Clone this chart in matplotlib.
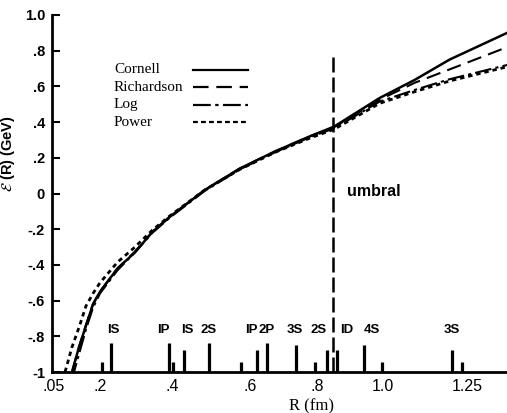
import matplotlib
matplotlib.use("Agg")
import matplotlib.pyplot as plt
import numpy as np

# curve values, R in fm, E in GeV
r = np.array([0.10, 0.12, 0.14, 0.16, 0.18, 0.20, 0.25, 0.30, 0.35, 0.40,
              0.50, 0.60, 0.70, 0.80, 0.87, 1.00, 1.10, 1.20, 1.365])
cornell = [np.nan, -1.00, -0.86, -0.74, -0.62, -0.55, -0.42, -0.33, -0.215, -0.13,
           0.02, 0.14, 0.235, 0.32, 0.375, 0.535, 0.636, 0.75, 0.90]
richardson = [np.nan, -1.00, -0.86, -0.735, -0.62, -0.55, -0.42, -0.325, -0.215, -0.13,
              0.02, 0.14, 0.235, 0.32, 0.372, 0.525, 0.62, 0.695, 0.82]
log_pot = [np.nan, -1.04, -0.90, -0.76, -0.64, -0.56, -0.43, -0.33, -0.22, -0.135,
           0.015, 0.135, 0.23, 0.315, 0.365, 0.515, 0.58, 0.64, 0.72]
power = [-1.00, -0.86, -0.75, -0.63, -0.56, -0.50, -0.385, -0.30, -0.205, -0.125,
         0.02, 0.135, 0.23, 0.31, 0.36, 0.505, 0.57, 0.63, 0.71]

# level marks along the bottom
lvl_r = [0.206, 0.231, 0.397, 0.409, 0.440, 0.512, 0.603, 0.649, 0.678, 0.761,
         0.815, 0.850, 0.878, 0.955, 1.007, 1.207, 1.236]
lvl_top = [-0.945, -0.84, -0.84, -0.945, -0.875, -0.84, -0.945, -0.875, -0.84, -0.85,
           -0.945, -0.875, -0.875, -0.85, -0.945, -0.875, -0.945]
lab_r = [0.237, 0.380, 0.449, 0.512, 0.633, 0.678, 0.758, 0.824, 0.907, 0.978, 1.207]
lab_txt = ["IS", "IP", "IS", "2S", "IP", "2P", "3S", "2S", "ID", "4S", "3S"]

umbral_r = 0.867
umbral_top = 0.776

xtick_pos = [0.068, 0.2, 0.406, 0.629, 0.821, 1.01, 1.25]
xtick_lab = [".05", ".2", ".4", ".6", ".8", "1.0", "1.25"]
ytick_pos = [1.0, 0.8, 0.6, 0.4, 0.2, 0.0, -0.2, -0.4, -0.6, -0.8, -1.0]
ytick_lab = ["1.0", ".8", ".6", ".4", ".2", "0", "-.2", "-.4", "-.6", "-.8", "-1"]

names = ["Cornell", "Richardson", "Log", "Power"]
styles = ["-", (0, (7, 3.5)), (0, (8, 2, 1.5, 2)), (0, (1.6, 1.4))]
widths = [1.8, 1.5, 1.5, 2.0]

fig = plt.figure(figsize=(5.07, 4.13), dpi=100)
ax = fig.add_axes([52/507, 1 - 372/413, 455/507, 357/413])

for y, ls, lw in zip([cornell, richardson, log_pot, power], styles, widths):
    ax.plot(r, y, color="black", linestyle=ls, linewidth=lw)

ax.vlines(lvl_r, -1, lvl_top, color="black", linewidth=2.3)
for xr, t in zip(lab_r, lab_txt):
    ax.text(xr, -0.765, t, ha="center", va="center", fontsize=9.5,
            fontweight="bold", family="Liberation Sans")

ax.vlines(umbral_r, -1, umbral_top, color="black", linewidth=1.8,
          linestyles=[(0, (6, 2))])
ax.text(0.906, 0.014, "umbral", ha="left", va="center", fontsize=11.5,
        fontweight="bold", family="Liberation Sans")

# hand-made legend, text left aligned, sample lines to the right
rows = [0.846, 0.797, 0.748, 0.699]
for yy, nm, ls, lw in zip(rows, names, styles, widths):
    ax.text(0.136, yy, nm, transform=ax.transAxes, ha="left", va="center",
            fontsize=11, family="Liberation Serif")
    ax.plot([0.310, 0.431], [yy, yy], transform=ax.transAxes, color="black",
            linestyle=ls if nm != "Power" else (0, (2.2, 1.4)), linewidth=1.6)

ax.set_xlim(0.0627, 1.3645)
ax.set_ylim(-1, 1)
ax.spines["top"].set_visible(False)
ax.spines["right"].set_visible(False)
ax.spines["left"].set_linewidth(2)
ax.spines["bottom"].set_linewidth(2)

ax.set_xticks(xtick_pos)
ax.set_xticklabels(xtick_lab, fontsize=11.5, family="Liberation Sans")
ax.tick_params(axis="x", length=0, pad=5)
ax.set_yticks(ytick_pos)
ax.set_yticklabels(ytick_lab, fontsize=10.5, fontweight="bold", family="Liberation Sans")
ax.tick_params(axis="y", direction="in", length=6, width=1.5, pad=5)

ax.set_xlabel("R (fm)", fontsize=12, family="Liberation Serif")
ax.xaxis.set_label_coords(0.571, -0.074)
ax.set_ylabel(r"$\mathcal{E}$ (R) (GeV)", fontsize=10.5, fontweight="bold",
              family="Liberation Sans")
ax.yaxis.set_label_coords(-0.077, 0.613)

fig.savefig("out.png", dpi=100)
